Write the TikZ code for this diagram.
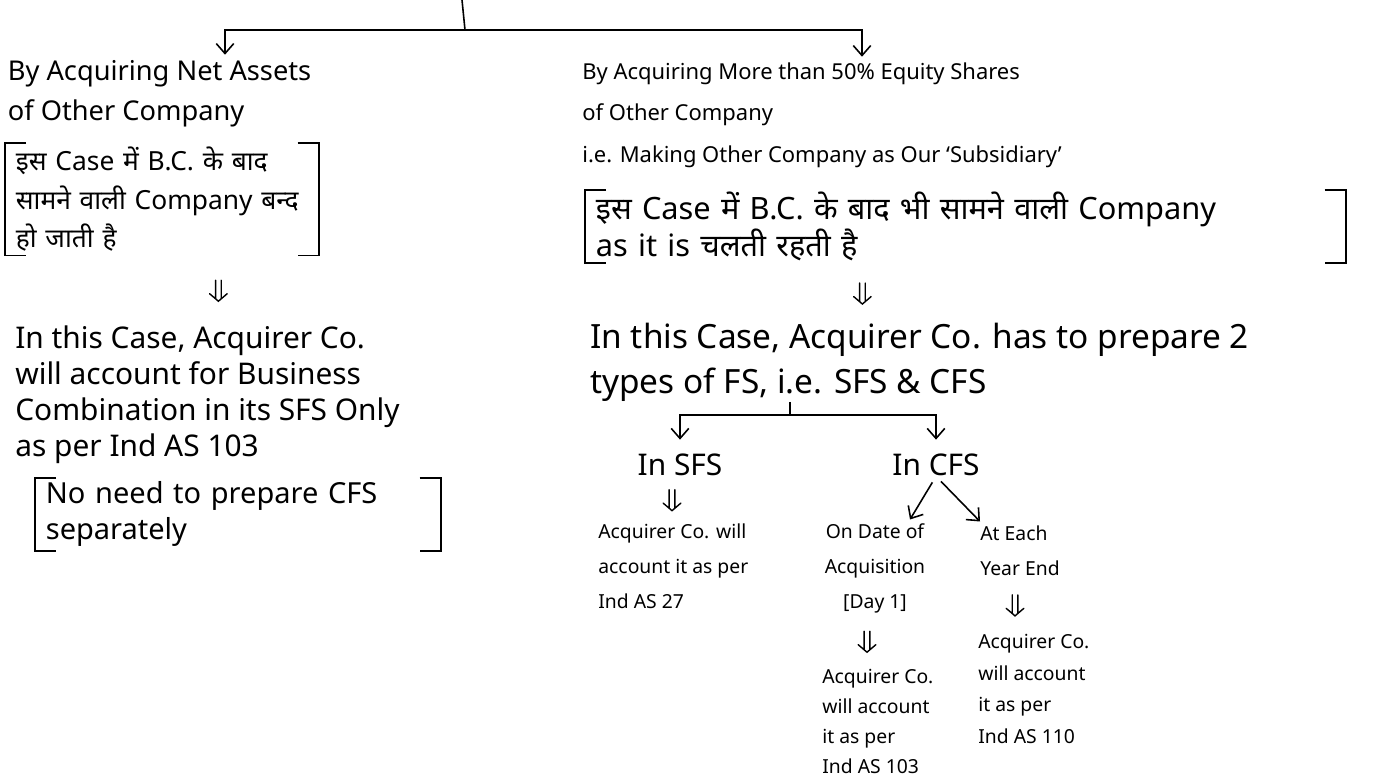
\documentclass[tikz,border=0pt]{standalone}
\usepackage{fontspec}
\setmainfont{Noto Sans}
\newfontfamily\hindi[Script=Devanagari]{Noto Sans}
\usetikzlibrary{arrows.meta,positioning,calc}
\tikzset{
  txt/.style={align=left,anchor=north west,inner sep=0pt,
    font=\fontsize{17}{20.5}\selectfont},
  small/.style={txt,font=\fontsize{11}{20}\selectfont},
  brk/.style={align=left,anchor=north west,inner xsep=6pt,inner ysep=2pt,
    font=\hindi\fontsize{15}{22}\selectfont},
  fl/.style={-{Straight Barb[length=2mm,width=3.5mm]},line width=0.9pt},
  dbl/.style={line width=0.8pt,line cap=round},
}
% square brackets round a node
\newcommand{\sqbrackets}[1]{%
  \draw[line width=0.9pt] ([xshift=12pt]#1.north west) -| (#1.south west) -- ++(12pt,0);
  \draw[line width=0.9pt] ([xshift=-12pt]#1.north east) -| (#1.south east) -- ++(-12pt,0);}
% short double arrow half way between two nodes
\newcommand{\dnarrow}[3]{%
  \path ($(#1)!.5!(#1 |- #2)+(#3,0)$) coordinate (m);
  \draw[dbl] ([shift={(-1.6pt,0.2cm)}]m) -- ([shift={(-1.6pt,-0.17cm)}]m)
    ([shift={(1.6pt,0.2cm)}]m) -- ([shift={(1.6pt,-0.17cm)}]m)
    ([shift={(-5pt,-0.07cm)}]m) -- ([yshift=-0.22cm]m) -- ([shift={(5pt,-0.07cm)}]m);}

\begin{document}
\begin{tikzpicture}
  \useasboundingbox (0,0) rectangle (27.8,-15.64);
  \coordinate (top) at (9.24,0);
  \coordinate (tj) at (9.3,-0.6);
  \coordinate (la) at (4.5,-0.6);
  \coordinate (ra) at (17.24,-0.6);

  % left branch
  \node[txt,font=\fontsize{15.5}{22.7}\selectfont] (ltitle) at (0.15,-1.2)
    {By Acquiring Net Assets\\of Other Company};
  \node[brk,text width=5.84cm] (lbox) at (0.1,-2.86)
    {इस Case में B.C. के बाद\\सामने वाली Company बन्द\\हो जाती है};
  \node[txt] (lcase) at (0.3,-6.5)
    {In this Case, Acquirer Co.\\will account for Business\\Combination in its SFS Only\\as per Ind AS 103};
  \node[txt,inner xsep=6pt,inner ysep=2pt,text width=7.68cm,font=\fontsize{16.5}{20.5}\selectfont]
    (lnote) at (0.7,-9.56) {No need to prepare CFS\\separately};
  \sqbrackets{lbox}
  \sqbrackets{lnote}

  % right branch
  \node[txt,font=\fontsize{12.5}{23.8}\selectfont] (rtitle) at (11.64,-1.24)
    {By Acquiring More than 50\% Equity Shares\\of Other Company\\i.e. Making Other Company as Our `Subsidiary'};
  \node[brk,text width=14.78cm,inner ysep=1pt,font=\hindi\fontsize{17.5}{21}\selectfont] (rbox) at (11.7,-3.8)
    {इस Case में B.C. के बाद भी सामने वाली Company\\as it is चलती रहती है};
  \sqbrackets{rbox}
  \node[txt,font=\fontsize{19}{25.5}\selectfont] (rcase) at (11.8,-6.46)
    {In this Case, Acquirer Co. has to prepare 2\\types of FS, i.e. SFS \& CFS};
  \coordinate (rb) at (15.8,-8.3);
  \node[txt,anchor=center] (sfs) at (13.6,-9.3) {In SFS};
  \node[txt,anchor=center] (cfs) at (18.72,-9.3) {In CFS};
  \node[small] (sfsres) at (11.96,-10.46) {Acquirer Co. will\\account it as per\\Ind AS 27};
  \node[small,align=center,anchor=north] (day1) at (17.5,-10.46) {On Date of\\Acquisition\\{[}Day 1{]}};
  \node[small] (yearend) at (19.6,-10.5) {At Each\\Year End};
  \node[small,font=\fontsize{11}{17}\selectfont] (day1res) at (16.44,-13.38)
    {Acquirer Co.\\will account\\it as per\\Ind AS 103};
  \node[small,font=\fontsize{11}{18}\selectfont] (yeres) at (19.56,-12.68)
    {Acquirer Co.\\will account\\it as per\\Ind AS 110};

  % connectors
  \draw[line width=0.9pt] (top) -- (tj);
  \draw[fl,shorten >=3pt] (tj) -- (la) -- (la |- ltitle.north);
  \draw[fl,shorten >=3pt] (tj) -- (ra) -- (ra |- rtitle.north);
  \dnarrow{lbox.south}{lcase.north}{1.13}
  \dnarrow{rbox.south}{rcase.north}{-2.06}
  \draw[line width=0.9pt] (rcase.south -| rb) -- (rb);
  \draw[fl,shorten >=8pt] (rb) -| (sfs.north);
  \draw[fl,shorten >=8pt] (rb) -| (cfs.north);
  \dnarrow{sfs.south}{sfsres.north}{-0.16}
  \draw[fl,shorten <=4pt] (cfs.south) -- ([xshift=0.7cm,yshift=2pt]day1.north);
  \draw[fl,shorten <=4pt] (cfs.south) -- ([yshift=2pt]yearend.north west);
  \dnarrow{day1.south}{day1res.north}{-0.16}
  \dnarrow{yearend.south west}{yeres.north}{0.7}
\end{tikzpicture}
\end{document}
